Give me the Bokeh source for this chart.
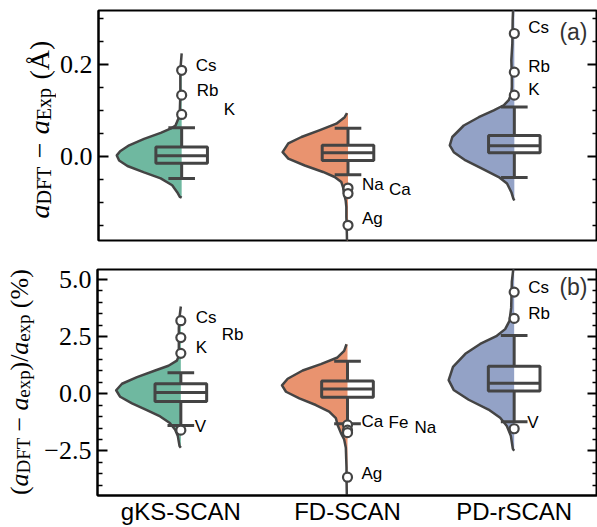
import numpy as np
from bokeh.plotting import figure
from bokeh.layouts import column, row
from bokeh.models import FixedTicker, LinearAxis, Range1d, Label, ColumnDataSource
from bokeh.core.properties import value
from bokeh.embed import file_html
from bokeh.resources import INLINE

# ------------------------------------------------------------------ data
categories = ["gKS-SCAN", "FD-SCAN", "PD-rSCAN"]
fill_colors = ["#6fb8a0", "#e9936f", "#93a2c6"]

# ---- panel (a): a_DFT - a_Exp (Angstrom)
a_yticks = [0.0, 0.2]
a_ytick_labels = ["0.0", "0.2"]
a_yminor = [-0.15, -0.1, -0.05, 0.05, 0.1, 0.15, 0.25, 0.3]

# violin half-profiles (value level, half width)
a_gks_y = [0.224, 0.187, 0.133, 0.089, 0.067, 0.060, 0.051, 0.038, 0.024, 0.011, 0.002,
           -0.009, -0.021, -0.035, -0.048, -0.063, -0.078, -0.088, -0.090]
a_gks_w = [0.0, 0.008, 0.008, 0.012, 0.037, 0.067, 0.126, 0.226, 0.316, 0.370, 0.390,
           0.376, 0.326, 0.226, 0.126, 0.057, 0.027, 0.011, 0.0]
a_fd_y = [0.094, 0.085, 0.071, 0.057, 0.042, 0.028, 0.009, -0.005, -0.020, -0.034, -0.045,
          -0.056, -0.067, -0.081, -0.096, -0.110, -0.132, -0.150, -0.183, -0.200, -0.220]
a_fd_w = [0.006, 0.020, 0.070, 0.169, 0.280, 0.359, 0.393, 0.359, 0.260, 0.150, 0.080,
          0.040, 0.030, 0.024, 0.014, 0.010, 0.010, 0.008, 0.006, 0.003, 0.0]
a_pd_y = [0.340, 0.296, 0.245, 0.209, 0.172, 0.151, 0.136, 0.122, 0.111, 0.100, 0.085,
          0.067, 0.042, 0.024, 0.009, -0.009, -0.027, -0.045, -0.059, -0.078, -0.092, -0.096]
a_pd_w = [0.005, 0.010, 0.012, 0.018, 0.015, 0.015, 0.018, 0.034, 0.064, 0.124, 0.214,
          0.304, 0.373, 0.388, 0.364, 0.293, 0.194, 0.094, 0.044, 0.018, 0.006, 0.0]

a_q1 = [-0.015, -0.009, 0.008]
a_med = [0.001, 0.008, 0.023]
a_q3 = [0.020, 0.024, 0.045]
a_lo = [-0.048, -0.040, -0.046]
a_hi = [0.062, 0.061, 0.107]

a_out_cat = [0, 0, 0, 1, 1, 1, 2, 2, 2]
a_out_val = [0.187, 0.133, 0.091, -0.069, -0.081, -0.150, 0.267, 0.183, 0.133]
a_out_name = ["Cs", "Rb", "K", "Na", "Ca", "Ag", "Cs", "Rb", "K"]

# ---- panel (b): (a_DFT - a_exp)/a_exp (%)
b_yticks = [-2.5, 0.0, 2.5, 5.0]
b_ytick_labels = ["\u22122.5", "0.0", "2.5", "5.0"]
b_yminor = [-4.0, -3.5, -3.0, -2.0, -1.5, -1.0, -0.5, 0.5, 1.0, 1.5, 2.0,
            3.0, 3.5, 4.0, 4.5, 5.5]

b_gks_y = [3.82, 3.46, 2.89, 2.17, 1.66, 1.45, 1.23, 1.02, 0.73, 0.44, 0.155, -0.13,
           -0.42, -0.71, -0.99, -1.28, -1.57, -1.85, -2.28, -2.36]
b_gks_w = [0.0, 0.006, 0.012, 0.012, 0.012, 0.024, 0.074, 0.154, 0.263, 0.353, 0.388, 0.364,
           0.293, 0.204, 0.124, 0.066, 0.034, 0.018, 0.008, 0.0]
b_fd_y = [2.17, 1.88, 1.59, 1.30, 1.02, 0.66, 0.37, 0.09, -0.20, -0.49, -0.78, -1.06,
          -1.35, -1.71, -2.00, -2.36, -3.22, -3.65, -4.47, -4.80]
b_fd_w = [0.006, 0.020, 0.060, 0.160, 0.269, 0.359, 0.393, 0.369, 0.289, 0.190, 0.110, 0.070,
          0.060, 0.040, 0.020, 0.010, 0.006, 0.006, 0.004, 0.0]
b_pd_y = [5.60, 4.91, 3.76, 3.19, 2.83, 2.54, 2.18, 1.75, 1.18, 0.60, 0.17, -0.26,
          -0.69, -1.05, -1.41, -1.84, -2.41, -2.49]
b_pd_w = [0.003, 0.014, 0.018, 0.028, 0.054, 0.104, 0.204, 0.293, 0.367, 0.393, 0.363, 0.273,
          0.154, 0.084, 0.044, 0.020, 0.008, 0.0]

b_q1 = [-0.34, -0.15, 0.12]
b_med = [0.06, 0.21, 0.46]
b_q3 = [0.44, 0.56, 1.21]
b_lo = [-1.39, -1.31, -1.22]
b_hi = [0.92, 1.43, 2.55]

b_out_cat = [0, 0, 0, 0, 1, 1, 1, 1, 2, 2, 2]
b_out_val = [3.20, 2.46, 1.77, -1.59, -1.36, -1.59, -1.70, -3.65, 4.45, 3.30, -1.53]
b_out_name = ["Cs", "Rb", "K", "V", "Ca", "Fe", "Na", "Ag", "Cs", "Rb", "V"]

# ------------------------------------------------------------------ layout / style
a_label_dx = [14, 15, 42, 14, 41, 14, 14, 14, 14]
a_label_dy = [-5, -5, -5, -4, -4, -7, -6, -6, -6]
b_label_dx = [15, 41, 15, 14, 14, 41, 67, 14, 14, 14, 13]
b_label_dy = [-3, -3, -6, -4, -3, -8, -5, -4, -5, -5, -6]

EDGE = "#444444"
SERIF = "Liberation Serif"
SANS = "Liberation Sans"
BOX_HW = 0.155
CAP_HW = 0.08

W_RM = {" ": 0.25, "(": 0.333, ")": 0.333, "/": 0.278, "%": 0.833, "\u00c5": 0.722,
        "D": 0.722, "F": 0.556, "T": 0.611, "E": 0.611, "x": 0.5, "p": 0.5, "e": 0.444,
        "\u2212": 0.564}
W_IT = {"a": 0.5}


def math_label_fig(width, height, frame_h, top_b, bot_b, pieces, base_x, start,
                   F=28, Fs=20, drop=4):
    """Vertical axis title built from italic / roman / subscript text pieces.
    Its frame is aligned with the neighbouring panel, so y is in px from frame bottom."""
    f = figure(width=width, height=height, x_range=Range1d(0, width),
               y_range=Range1d(0, frame_h), output_backend="svg", toolbar_location=None,
               x_axis_location=None, y_axis_location=None, min_border_left=0,
               min_border_right=0, min_border_top=top_b, min_border_bottom=bot_b,
               outline_line_color=None)
    f.grid.visible = False
    f.background_fill_color = "white"
    f.border_fill_color = "white"
    along = start
    for text, style, gap in pieces:
        along += gap * F
        size = Fs if style == "sub" else F
        table = W_IT if style == "it" else W_RM
        w = sum(table.get(c, 0.5) for c in text) * size
        f.text(x=[base_x + (drop if style == "sub" else 0)], y=[along], text=[text],
               angle=np.pi / 2, text_font=value(SERIF), text_font_size=f"{size}px",
               text_font_style=value("italic" if style == "it" else "normal"),
               text_align="left", text_baseline="alphabetic", text_color="black")
        along += w
    return f


def make_panel(width, height, border_left, yr, yticks, ytick_labels, yminor, profiles,
               q1, med, q3, lo, hi, out_cat, out_val, out_name, ldx, ldy, tag, tag_dy,
               top_border, show_x):
    p = figure(width=width, height=height, x_range=Range1d(-0.5, 2.5), y_range=Range1d(*yr),
               output_backend="svg", toolbar_location=None,
               x_axis_location="below" if show_x else None,
               min_border_left=border_left, min_border_right=0, min_border_top=top_border,
               min_border_bottom=0 if show_x else 14)
    p.xgrid.visible = False
    p.ygrid.visible = False
    p.outline_line_color = "black"
    p.outline_line_width = 2
    p.background_fill_color = "white"
    p.border_fill_color = "white"

    ticker = FixedTicker(ticks=yticks, minor_ticks=yminor)
    ax = p.yaxis[0]
    ax.ticker = ticker
    ax.major_label_overrides = dict(zip(yticks, ytick_labels))
    ax.major_label_text_font = SERIF
    ax.major_label_text_font_size = "26px"
    ax.major_label_text_color = "black"
    ax.major_label_standoff = 6
    right = LinearAxis(ticker=ticker, major_label_standoff=0,
                       major_label_overrides={t: "" for t in yticks})
    p.add_layout(right, "right")
    for a in (ax, right):
        a.axis_line_color = "black"
        a.axis_line_width = 2
        a.major_tick_in = 10
        a.major_tick_out = 0
        a.minor_tick_in = 5
        a.minor_tick_out = 0
        a.major_tick_line_width = 2
        a.minor_tick_line_width = 1.5
        a.major_tick_line_color = "black"
        a.minor_tick_line_color = "black"

    if show_x:
        xa = p.xaxis[0]
        xa.ticker = FixedTicker(ticks=[0, 1, 2], minor_ticks=[])
        xa.major_label_overrides = {i: c for i, c in enumerate(categories)}
        xa.major_label_text_font = SANS
        xa.major_label_text_font_size = "24px"
        xa.major_label_text_color = "black"
        xa.major_label_standoff = 2
        xa.major_tick_in = 0
        xa.major_tick_out = 0
        xa.minor_tick_in = 0
        xa.minor_tick_out = 0
        xa.axis_line_color = "black"
        xa.axis_line_width = 2

    # half violins
    for i, (ys, ws) in enumerate(profiles):
        ys = np.asarray(ys, float)
        ws = np.asarray(ws, float)
        src = ColumnDataSource(dict(y=ys, x1=i - ws, x2=np.full(len(ys), float(i))))
        p.harea(y="y", x1="x1", x2="x2", source=src, fill_color=fill_colors[i], fill_alpha=1.0)
        p.line(x="x1", y="y", source=src, line_color=EDGE, line_width=2.5, line_join="round")

    xs = np.arange(len(categories), dtype=float)
    # boxes
    p.quad(left=xs - BOX_HW, right=xs + BOX_HW, bottom=q1, top=q3, fill_alpha=0,
           line_color=EDGE, line_width=3)
    p.segment(x0=xs - BOX_HW, x1=xs + BOX_HW, y0=med, y1=med, line_color=EDGE, line_width=3)
    p.segment(x0=xs, x1=xs, y0=q3, y1=hi, line_color=EDGE, line_width=3)
    p.segment(x0=xs, x1=xs, y0=q1, y1=lo, line_color=EDGE, line_width=3)
    p.segment(x0=xs - CAP_HW, x1=xs + CAP_HW, y0=hi, y1=hi, line_color=EDGE, line_width=3)
    p.segment(x0=xs - CAP_HW, x1=xs + CAP_HW, y0=lo, y1=lo, line_color=EDGE, line_width=3)

    # outliers + element labels
    osrc = ColumnDataSource(dict(x=np.asarray(out_cat, float), y=out_val, name=out_name,
                                 dx=ldx, dy=ldy))
    p.scatter(x="x", y="y", source=osrc, size=9, fill_color="white", line_color=EDGE,
              line_width=2.2)
    p.text(x="x", y="y", text="name", x_offset="dx", y_offset="dy", source=osrc,
           text_font=value(SANS), text_font_size="17px", text_color="black",
           text_align="left", text_baseline="middle")

    # panel tag
    p.add_layout(Label(x=2.5, y=yr[1], x_units="data", y_units="data", x_offset=-10,
                       y_offset=tag_dy, text=tag, text_font=SANS, text_font_size="23px",
                       text_color="#333333", text_align="right", text_baseline="middle"))
    return p


pa = make_panel(541, 254, 41, (-0.183, 0.317), a_yticks, a_ytick_labels, a_yminor,
                [(a_gks_y, a_gks_w), (a_fd_y, a_fd_w), (a_pd_y, a_pd_w)],
                a_q1, a_med, a_q3, a_lo, a_hi, a_out_cat, a_out_val, a_out_name,
                a_label_dx, a_label_dy, "(a)", -21, 10, False)
pb = make_panel(557, 273, 57, (-4.45, 5.44), b_yticks, b_ytick_labels, b_yminor,
                [(b_gks_y, b_gks_w), (b_fd_y, b_fd_w), (b_pd_y, b_pd_w)],
                b_q1, b_med, b_q3, b_lo, b_hi, b_out_cat, b_out_val, b_out_name,
                b_label_dx, b_label_dy, "(b)", -17, 15, True)

la = math_label_fig(56, 254, 230, 10, 14,
                    [("a", "it", 0), ("DFT", "sub", 0), ("\u2212", "rm", 0.3),
                     ("a", "it", 0.3), ("Exp", "sub", 0), ("(\u00c5)", "rm", 0.3)],
                    base_x=39, start=22)
lb = math_label_fig(40, 273, 228, 15, 30,
                    [("(", "rm", 0), ("a", "it", 0), ("DFT", "sub", 0),
                     ("\u2212", "rm", 0.25), ("a", "it", 0.25), ("exp", "sub", 0),
                     (")/", "rm", 0), ("a", "it", 0), ("exp", "sub", 0),
                     ("(%)", "rm", 0.25)],
                    base_x=19, start=0.5, F=26, Fs=19)

layout = column(row(la, pa, spacing=0), row(lb, pb, spacing=0), spacing=0)
open("out.html", "w").write(file_html(layout, INLINE))
